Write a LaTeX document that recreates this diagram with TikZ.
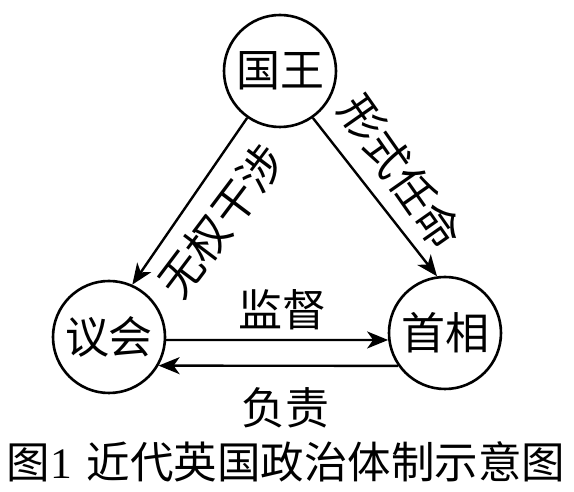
\documentclass[tikz,border=0pt]{standalone}
\usepackage{fontspec}
\setmainfont{Liberation Serif}
\newfontfamily\cjk{Noto Sans CJK SC}
\usetikzlibrary{positioning,arrows.meta}

\begin{document}
\begin{tikzpicture}[x=1pt,y=1pt,
    quan/.style={draw,circle,line width=2.6pt,minimum size=112pt,inner sep=0pt,font=\cjk\fontsize{44}{44}\selectfont},
    zi/.style={inner sep=0pt,font=\cjk\fontsize{44}{44}\selectfont},
    jian/.style={line width=2.4pt,-{Stealth[length=21pt,width=17pt,inset=6pt]}}]
    \useasboundingbox (0,0) rectangle (574,492);
    % les trois cercles
    \node[quan] (gw) at (280,421) {国王};
    \node[quan] (yh) at (109,155) {议会};
    \node[quan] (sx) at (445,159) {首相};
    % fleches
    \draw[jian] (gw.235) -- (yh.66);
    \draw[jian] (gw.-55) -- (sx.98);
    \draw[jian] (yh.-3) -- (sx.187);
    \draw[jian] (sx.215) -- (yh.-30);
    % textes
    \node[zi,rotate=53] (wq) at (221,271) {无权干涉};
    \node[zi,rotate=-55] (xs) at (401,320) {形式任命};
    \node[zi] (jd) at (282,182) {监督};
    \node[zi] (fz) at (285,84) {负责};
    \node[inner sep=0pt,font=\fontsize{43.5}{44}\selectfont] (tt) at (286,30) {{\cjk 图}1\hspace{15pt}{\cjk 近代英国政治体制示意图}};
\end{tikzpicture}
\end{document}
